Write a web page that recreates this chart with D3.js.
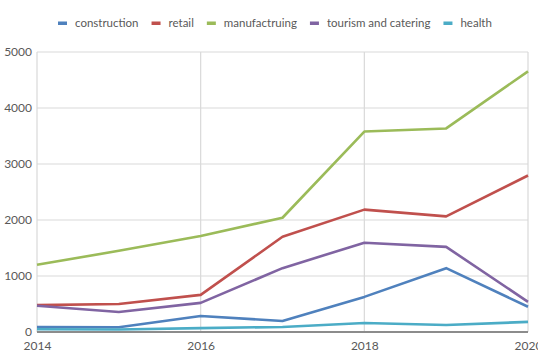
<!DOCTYPE html>
<html>
<head>
<meta charset="utf-8">
<script src="https://cdn.jsdelivr.net/npm/d3@7"></script>
<style>
  html, body { margin: 0; padding: 0; background: #fff; }
  svg { display: block; }
  text { font-family: Lato, "Liberation Sans", Arial, sans-serif; fill: #595959; }
</style>
</head>
<body>
<svg id="chart" width="538" height="352"></svg>
<script>
// Years on the x axis and employment figures per sector
const years = [2014, 2015, 2016, 2017, 2018, 2019, 2020];
const construction = [90, 85, 287, 197, 627, 1140, 450];
const retail = [480, 500, 663, 1700, 2185, 2065, 2795];
const manufacturing = [1200, 1450, 1715, 2040, 3580, 3635, 4655];
const tourism = [470, 358, 520, 1140, 1595, 1520, 538];
const health = [50, 45, 70, 90, 160, 125, 180];

const seriesNames = ["construction", "retail", "manufactruing", "tourism and catering", "health"];
const seriesValues = [construction, retail, manufacturing, tourism, health];
const seriesColors = ["#4f81bd", "#c0504d", "#9bbb59", "#8064a2", "#4bacc6"];

const yTicks = [0, 1000, 2000, 3000, 4000, 5000];
const xTicks = [2014, 2016, 2018, 2020];

const svg = d3.select("#chart");
const plotLeft = 37, plotRight = 528, plotTop = 52, plotBottom = 332;

const x = d3.scaleLinear().domain([2014, 2020]).range([plotLeft, plotRight]);
const y = d3.scaleLinear().domain([0, 5000]).range([plotBottom, plotTop]);

// Horizontal gridlines
svg.append("g")
  .selectAll("line")
  .data(yTicks.filter(d => d > 0))
  .join("line")
  .attr("x1", plotLeft).attr("x2", plotRight)
  .attr("y1", d => y(d)).attr("y2", d => y(d))
  .attr("stroke", "#d9d9d9").attr("stroke-width", 1.2);

// Vertical gridlines
svg.append("g")
  .selectAll("line")
  .data(xTicks)
  .join("line")
  .attr("x1", d => x(d)).attr("x2", d => x(d))
  .attr("y1", plotTop).attr("y2", plotBottom)
  .attr("stroke", "#d9d9d9").attr("stroke-width", 1.2);

const labelFont = "Lato, 'Liberation Sans', Arial, sans-serif";

// Y axis labels
const yAxis = d3.axisLeft(y).tickValues(yTicks).tickFormat(d3.format("d")).tickSize(0).tickPadding(5);
const gy = svg.append("g").attr("transform", `translate(${plotLeft},0)`).call(yAxis);
gy.select(".domain").remove();
gy.selectAll("text")
  .style("font-family", labelFont)
  .style("font-size", "12px").attr("fill", "#595959");

// X axis labels
const xAxis = d3.axisBottom(x).tickValues(xTicks).tickFormat(d3.format("d")).tickSize(0).tickPadding(9);
const gx = svg.append("g").attr("transform", `translate(0,${plotBottom})`).call(xAxis);
gx.select(".domain").remove();
gx.selectAll("text")
  .style("font-family", labelFont)
  .style("font-size", "12px").attr("fill", "#595959");

// Series lines
const line = d3.line().x((d, i) => x(years[i])).y(d => y(d));
svg.append("g")
  .selectAll("path")
  .data(seriesValues)
  .join("path")
  .attr("d", d => line(d))
  .attr("fill", "none")
  .attr("stroke", (d, i) => seriesColors[i])
  .attr("stroke-width", 2.6)
  .attr("stroke-linejoin", "round");

// Baseline axis
svg.append("line")
  .attr("x1", plotLeft).attr("x2", plotRight)
  .attr("y1", y(0)).attr("y2", y(0))
  .attr("stroke", "#8c8c8c").attr("stroke-width", 2);

// Legend
const legend = svg.append("g").attr("transform", "translate(0,23)");
let cx = 58;
seriesNames.forEach((name, i) => {
  const g = legend.append("g").attr("transform", `translate(${cx},0)`);
  g.append("rect").attr("x", 0).attr("y", -1.5).attr("width", 9).attr("height", 3.5).attr("fill", seriesColors[i]);
  const t = g.append("text").attr("x", 17).attr("y", 4)
    .style("font-size", "11.5px").text(name);
  cx += 17 + t.node().getComputedTextLength() + 13;
});
</script>
</body>
</html>
